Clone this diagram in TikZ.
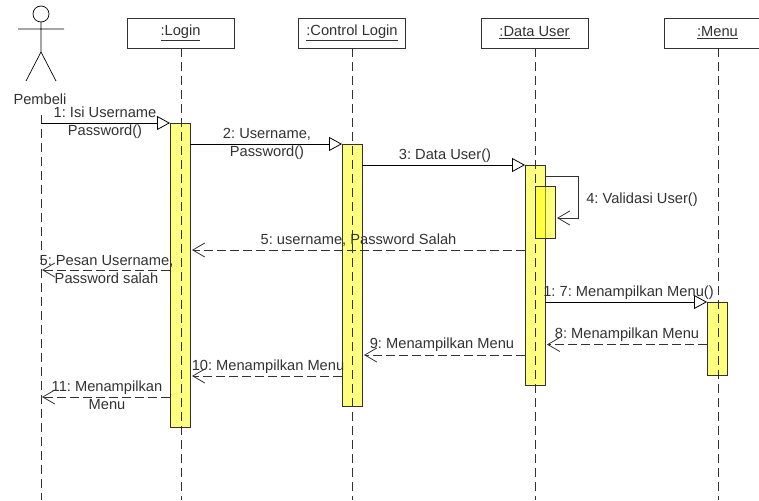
\documentclass[tikz,border=0pt]{standalone}
\usepackage{fontspec}
\setmainfont{Liberation Sans}
\usetikzlibrary{arrows.meta}
\definecolor{actbar}{RGB}{255,255,0}
\definecolor{inkgrey}{RGB}{50,50,50}
\tikzset{
  objbox/.style={draw=inkgrey,fill=white,anchor=center,minimum width=107pt,minimum height=30pt,inner sep=0pt,line width=0.8pt,text=inkgrey,font=\fontsize{14.67}{17.5}\selectfont\frenchspacing},
  lifeline/.style={line width=0.8pt,dash pattern=on 9pt off 5pt,draw=inkgrey},
  actbox/.style={draw=inkgrey,fill=actbar,fill opacity=0.5,line width=0.8pt},
  callarrow/.style={line width=0.8pt,draw=black,-{Triangle[open,length=13pt,width=14pt,fill=white]}},
  retarrow/.style={line width=0.8pt,draw=inkgrey,dash pattern=on 9pt off 4pt,-{Straight Barb[length=12pt,width=14pt]}},
  msg/.style={inner sep=0pt,text=inkgrey,align=center,font=\fontsize{14.67}{17.5}\selectfont\frenchspacing},
}
\begin{document}
\begin{tikzpicture}[x=1pt, y=-1pt, line cap=butt]

  %% lifelines
  \coordinate (pembeliTop) at (41,115);
  \coordinate (pembeliEnd) at (41,500);
  \coordinate (loginEnd) at (181,500);
  \coordinate (controlEnd) at (352.5,500);
  \coordinate (dataEnd) at (535,500);
  \coordinate (menuEnd) at (718,500);

  \node[objbox] (login) at (180.5,33) {\underline{:Login}};
  \node[objbox] (control) at (352,33) {\underline{:Control Login}};
  \node[objbox] (data) at (534.5,33) {\underline{:Data User}};
  \node[objbox] (menu) at (717.5,33) {\underline{:Menu}};

  %% actor
  \draw[line width=0.7pt] (41,14) circle (8pt);
  \draw[line width=0.7pt] (41,22) -- (41,52) (18,29) -- (64,29) (26,81) -- (41,52) -- (56,81);
  \node[msg] (pembeli) at (40,99.5) {Pembeli};

  %% activations
  \path[actbox] (170,123) rectangle (190,427);
  \path[actbox] (342,144) rectangle (362,406);
  \path[actbox] (525,165) rectangle (545,385);
  \path[actbox] (535,186) rectangle (555.5,238);
  \path[actbox] (707,302) rectangle (727,375);
  \coordinate (a1) at (170,123);
  \coordinate (a2) at (342,144);
  \coordinate (a3) at (525,165);
  \coordinate (a7) at (707,302);

  \draw[lifeline] (pembeliTop) -- (pembeliEnd);
  \draw[lifeline] (login) ++(0.5,15) -- (loginEnd);
  \draw[lifeline] (control) ++(0.5,15) -- (controlEnd);
  \draw[lifeline] (data) ++(0.5,15) -- (dataEnd);
  \draw[lifeline] (menu) ++(0.5,15) -- (menuEnd);

  %% calls
  \draw[callarrow] (41,123) -- (a1);
  \draw[callarrow] (190,144) -- (a2);
  \draw[callarrow] (362,165) -- (a3);
  \draw[callarrow] (545,302) -- (a7);
  \draw[line width=0.8pt,draw=inkgrey,-{Straight Barb[length=12pt,width=14pt]}] (545,176) -- (578,176) -- (578,218) -- (557,218);

  %% returns
  \draw[retarrow] (525,250) -- (192,250);
  \draw[retarrow] (170,270) -- (42,270);
  \draw[retarrow] (707,344.5) -- (547,344.5);
  \draw[retarrow] (525,355) -- (364,355);
  \draw[retarrow] (342,376) -- (192,376);
  \draw[retarrow] (170,397) -- (42,397);

  %% labels
  \node[msg] (m1) at (105,122.5) {1: Isi Username\\Password()};
  \node[msg] (m2) at (267,144) {2: Username,\\Password()};
  \node[msg] (m3) at (445,155.5) {3: Data User()};
  \node[msg] (m4) at (642,199.5) {4: Validasi User()};
  \node[msg] (m5) at (358.5,240) {5: username, Password Salah};
  \node[msg] (m6) at (106.5,269.5) {5: Pesan Username,\\Password salah};
  \node[msg] (m7) at (628.5,292.5) {1: 7: Menampilkan Menu()};
  \node[msg] (m8) at (627,334.5) {8: Menampilkan Menu};
  \node[msg] (m9) at (442,345) {9: Menampilkan Menu};
  \node[msg] (m10) at (268,366.5) {10: Menampilkan Menu};
  \node[msg] (m11) at (107,395.5) {11: Menampilkan\\Menu};

  \pgfresetboundingbox
  \path[use as bounding box] (0,0) rectangle (759,500);
\end{tikzpicture}
\end{document}
